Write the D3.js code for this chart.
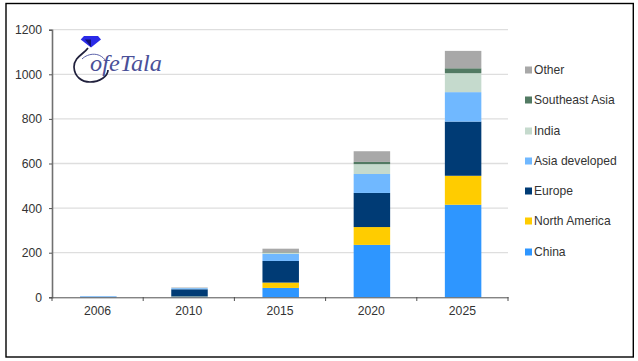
<!DOCTYPE html>
<html><head><meta charset="utf-8">
<script src="https://cdn.jsdelivr.net/npm/d3@7/dist/d3.min.js"></script>
<style>html,body{margin:0;padding:0;background:#fff}svg{display:block}text{font-family:"Liberation Sans",Arial,sans-serif}</style>
</head><body><svg id="c" width="638" height="361"></svg>
<script>
const categories = ["2006","2010","2015","2020","2025"];
const seriesNames = ["China","North America","Europe","Asia developed","India","Southeast Asia","Other"];
const seriesColors = ["#2E96FF","#FFCC00","#003B75","#70B8FF","#C5DACD","#527A63","#A8A8A8"];
const china = [1,3,42,235,415];
const northAmerica = [0,1,24,80,130];
const europe = [1,32,97,153,243];
const asiaDeveloped = [3,5,32,85,132];
const india = [0,1,5,44,85];
const southeastAsia = [0,0,2,10,22];
const other = [0,2,16,48,78];
const yTicks = [0,200,400,600,800,1000,1200];
const seriesValues = [china,northAmerica,europe,asiaDeveloped,india,southeastAsia,other];

const svg = d3.select("#c");
svg.append("rect").attr("x",6).attr("y",3.5).attr("width",627.3).attr("height",353.5)
  .attr("fill","#fff").attr("stroke","#000").attr("stroke-width",1.4);

const x = d3.scaleBand().domain(categories).range([52.7,508.7]).paddingInner(0.6).paddingOuter(0.3);
const xTick = d3.scaleBand().domain(categories).range([52,508]);
const y = d3.scaleLinear().domain([0,1200]).range([297.3,29.7]);

svg.append("g").selectAll("line").data(yTicks.slice(1)).join("line")
  .attr("x1",52).attr("x2",508).attr("y1",d=>y(d)).attr("y2",d=>y(d))
  .attr("stroke","#DEDEDE").attr("stroke-width",1.3);

const rows = categories.map((c,i)=>{const r={cat:c};seriesNames.forEach((s,k)=>r[s]=seriesValues[k][i]);return r;});
const stacked = d3.stack().keys(seriesNames)(rows);
svg.append("g").selectAll("g").data(stacked).join("g").attr("fill",(d,i)=>seriesColors[i])
  .selectAll("rect").data(d=>d).join("rect")
  .attr("x",d=>x(d.data.cat)).attr("width",x.bandwidth())
  .attr("y",d=>y(d[1])).attr("height",d=>y(d[0])-y(d[1]));

const axisColor="#505050";
const gy = svg.append("g").attr("transform","translate(52,0)")
  .call(d3.axisLeft(y).tickValues(yTicks).tickSize(3).tickPadding(7).tickFormat(d3.format("d")));
gy.select(".domain").attr("stroke","#707070").attr("stroke-width",1.6);
gy.selectAll("line").attr("stroke",axisColor);
gy.selectAll("text").attr("fill","#333").attr("font-size",12.2);

const gx = svg.append("g").attr("transform","translate(0,297.3)")
  .call(d3.axisBottom(xTick).tickSize(0).tickPadding(9));
gx.select(".domain").attr("stroke",axisColor).attr("stroke-width",1);
gx.selectAll("text").attr("fill","#333").attr("font-size",12.2);
svg.append("g").selectAll("line").data(categories.map(c=>xTick(c)).concat([508])).join("line")
  .attr("x1",d=>d).attr("x2",d=>d).attr("y1",297).attr("y2",301)
  .attr("stroke",axisColor);

const legendY = [252,221,191,161,131,100,70];
const lg = svg.append("g").selectAll("g").data(seriesNames).join("g")
  .attr("transform",(d,i)=>`translate(525,${legendY[i]})`);
lg.append("rect").attr("y",-3.5).attr("width",7).attr("height",7).attr("fill",(d,i)=>seriesColors[i]);
lg.append("text").attr("x",9).attr("y",4.3).attr("font-size",12.1).attr("fill","#333").text(d=>d);

// logo
const logo = svg.append("g");
logo.append("path").attr("d","M84 36L98 36L101 39.5L91 47.5L80.7 39.5Z").attr("fill","#2A2AE8");
logo.append("path").attr("d","M85 39.5L91 39.5L91 47Z").attr("fill","#10107A");
logo.append("path").attr("d","M88 48C84 54 74 57 74 67C74.5 77 82 82 90 82C100 82 108 76 108 70")
  .attr("fill","none").attr("stroke","#20203C").attr("stroke-width",1.7);
logo.append("path").attr("d","M82 59C88 53 101 51 107 63").attr("fill","none").attr("stroke","#4A50A0").attr("stroke-width",0.9);
logo.append("text").attr("x",90).attr("y",71).attr("font-family","'Liberation Serif',serif").attr("font-style","italic")
  .style("font-family","'Liberation Serif',serif").attr("font-size",24).attr("textLength",72).attr("lengthAdjust","spacingAndGlyphs").attr("fill","#4A5098").text("ofeTala");
</script></body></html>
